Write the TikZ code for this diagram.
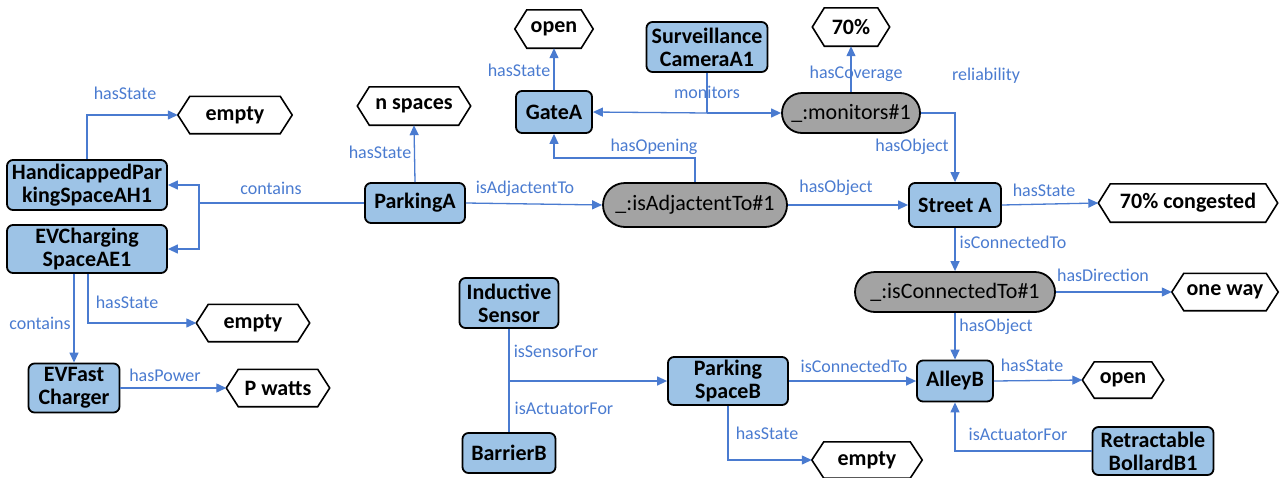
\documentclass[tikz,border=0pt]{standalone}
\usepackage{fontspec}
\setmainfont{Carlito}
\usetikzlibrary{arrows.meta,shapes.misc}
\definecolor{boxblue}{HTML}{9DC3E6}
\definecolor{pillgray}{HTML}{A3A3A3}
\definecolor{edgeblue}{HTML}{4A7BD0}
\tikzset{
  box/.style={draw=black, line width=1.8pt, fill=boxblue, rounded corners=6pt, align=center,
    font=\fontsize{22}{23}\selectfont\bfseries, inner sep=0pt},
  pill/.style={draw=black, line width=1.8pt, fill=pillgray, rounded rectangle, align=center,
    font=\fontsize{22}{23}\selectfont, inner sep=0pt},
  hexn/.style={draw=none, align=center, font=\fontsize{22}{23}\selectfont\bfseries, inner sep=0pt},
  hexline/.style={draw=black, line width=1.6pt, fill=white, line join=miter},
  edge/.style={draw=edgeblue, line width=1.3pt},
  arr/.style={edge, -{Triangle[length=10pt,width=9pt]}},
  lbl/.style={text=edgeblue, font=\fontsize{18}{19}\selectfont, inner sep=0pt}
}
\newcommand{\hexshape}[1]{%
  \draw[hexline] (#1.west) -- ([xshift=12pt]#1.north west) -- ([xshift=-12pt]#1.north east) -- (#1.east) -- ([xshift=-12pt]#1.south east) -- ([xshift=12pt]#1.south west) -- cycle;
  \node[hexn] at (#1) {\csname hextext#1\endcsname};}
\begin{document}
\begin{tikzpicture}[x=1pt,y=-1pt]
\useasboundingbox (0,0) rectangle (1280,477);
% boxes
\node[box, minimum width=160, minimum height=50] (hps) at (87,185) {HandicappedPar\\kingSpaceAH1};
\node[box, minimum width=160, minimum height=48] (evs) at (87,249) {EVCharging\\SpaceAE1};
\node[box, minimum width=91, minimum height=49] (evf) at (74,388) {EVFast\\Charger};
\node[box, minimum width=100, minimum height=40] (parkA) at (415,203) {ParkingA};
\node[box, minimum width=76, minimum height=42] (gateA) at (554,112) {GateA};
\node[box, minimum width=121, minimum height=50] (cam) at (707,47) {Surveillance\\CameraA1};
\node[box, minimum width=92, minimum height=44] (street) at (955,205) {Street A};
\node[box, minimum width=76, minimum height=41] (alley) at (955,381) {AlleyB};
\node[box, minimum width=121, minimum height=48] (bollard) at (1153,451) {Retractable\\BollardB1};
\node[box, minimum width=99, minimum height=50] (ind) at (509,303) {Inductive\\Sensor};
\node[box, minimum width=93, minimum height=40] (barrier) at (509,453) {BarrierB};
\node[box, minimum width=120, minimum height=48] (psb) at (728,381) {Parking\\SpaceB};
% pills
\node[pill, minimum width=138, minimum height=40] (mon) at (851,113) {\_:monitors\#1};
\node[pill, minimum width=184, minimum height=44] (adj) at (695,205) {\_:isAdjactentTo\#1};
\node[pill, minimum width=200, minimum height=40] (conn) at (955,292) {\_:isConnectedTo\#1};
% hexagon value nodes
\node[hexn, minimum width=114, minimum height=37] (emptyA) at (235,115) {};
\node[hexn, minimum width=113, minimum height=37] (emptyB) at (253,323) {};
\node[hexn, minimum width=103, minimum height=37] (pwatts) at (278,388) {};
\node[hexn, minimum width=113, minimum height=38] (nsp) at (414,106) {};
\node[hexn, minimum width=78, minimum height=38] (openA) at (554,29) {};
\node[hexn, minimum width=77, minimum height=38] (pct) at (851,27) {};
\node[hexn, minimum width=179, minimum height=38] (cong) at (1188,203) {};
\node[hexn, minimum width=106, minimum height=37] (oneway) at (1225,292) {};
\node[hexn, minimum width=81, minimum height=36] (openB) at (1123,380) {};
\node[hexn, minimum width=110, minimum height=36] (emptyC) at (867,460) {};
\expandafter\def\csname hextextemptyA\endcsname{empty}
\expandafter\def\csname hextextemptyB\endcsname{empty}
\expandafter\def\csname hextextpwatts\endcsname{P watts}
\expandafter\def\csname hextextnsp\endcsname{n spaces}
\expandafter\def\csname hextextopenA\endcsname{open}
\expandafter\def\csname hextextpct\endcsname{70\%}
\expandafter\def\csname hextextcong\endcsname{70\% congested}
\expandafter\def\csname hextextoneway\endcsname{one way}
\expandafter\def\csname hextextopenB\endcsname{open}
\expandafter\def\csname hextextemptyC\endcsname{empty}
\hexshape{emptyA}\hexshape{emptyB}\hexshape{pwatts}\hexshape{nsp}\hexshape{openA}
\hexshape{pct}\hexshape{cong}\hexshape{oneway}\hexshape{openB}\hexshape{emptyC}
% junction coordinates
\coordinate (cj) at (199,203);
\coordinate (ho) at (695,158);
\coordinate (mj) at (707,113);
\coordinate (sj) at (509,381);
% connectors
\draw[arr] (hps.north) |- (emptyA.west);
\draw[edge] (parkA.west) -- (cj);
\draw[arr] (cj) |- (hps.east);
\draw[arr] (cj) |- (evs.east);
\draw[arr] (evf.north |- evs.south) -- (evf.north);
\draw[arr] ([xshift=1pt]evs.south) |- (emptyB.west);
\draw[arr] (evf.east) -- (pwatts.west);
\draw[arr] (parkA.north) -- (nsp.south);
\draw[arr] (parkA.east) -- (adj.west);
\draw[arr] (adj.north) -- (ho) -| (gateA.south);
\draw[arr] (gateA.north) -- (openA.south);
\draw[edge] (cam.south) -- (mj);
\draw[arr] (mj) -- (gateA.east);
\draw[arr] (mj) -- (mon.west);
\draw[arr] (mon.north) -- (pct.south);
\draw[arr] (mon.east) -| (street.north);
\draw[arr] (adj.east) -- (street.west);
\draw[arr] (street.east) -- (cong.west);
\draw[arr] (street.south) -- (conn.north);
\draw[arr] (conn.east) -- (oneway.west);
\draw[arr] (conn.south) -- (alley.north);
\draw[arr] (alley.east) -- (openB.west);
\draw[arr] (bollard.west) -| (alley.south);
\draw[edge] (ind.south) -- (barrier.north);
\draw[arr] (sj) -- (psb.west);
\draw[arr] (psb.east) -- (alley.west);
\draw[arr] (psb.south) |- (emptyC.west);
% labels
\node[lbl] (l1) at (125,93) {hasState};
\node[lbl] (l2) at (271,188) {contains};
\node[lbl] (l3) at (127,302) {hasState};
\node[lbl] (l4) at (40,323) {contains};
\node[lbl] (l5) at (165,375) {hasPower};
\node[lbl] (l6) at (380,152) {hasState};
\node[lbl] (l7) at (519,70) {hasState};
\node[lbl] (l8) at (525,189) {isAdjactentTo};
\node[lbl] (l9) at (654,147) {hasOpening};
\node[lbl] (l10) at (707,92) {monitors};
\node[lbl] (l11) at (856,74) {hasCoverage};
\node[lbl] (l12) at (986,76) {reliability};
\node[lbl] (l13) at (912,147) {hasObject};
\node[lbl] (l14) at (836,188) {hasObject};
\node[lbl] (l15) at (1044,190) {hasState};
\node[lbl] (l16) at (1013,242) {isConnectedTo};
\node[lbl] (l17) at (1103,275) {hasDirection};
\node[lbl] (l18) at (996,327) {hasObject};
\node[lbl] (l19) at (1032,365) {hasState};
\node[lbl] (l20) at (1018,434) {isActuatorFor};
\node[lbl] (l21) at (556,351) {isSensorFor};
\node[lbl] (l22) at (564,408) {isActuatorFor};
\node[lbl] (l23) at (854,366) {isConnectedTo};
\node[lbl] (l24) at (767,433) {hasState};
\end{tikzpicture}
\end{document}
